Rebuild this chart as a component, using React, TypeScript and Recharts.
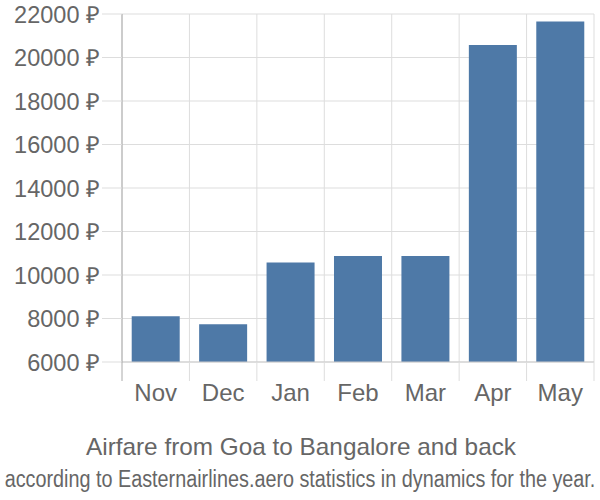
import { BarChart, Bar, XAxis, YAxis, CartesianGrid } from "recharts";

const months = ["Nov", "Dec", "Jan", "Feb", "Mar", "Apr", "May"];
const fares = [8100, 7730, 10580, 10870, 10870, 20570, 21650];
const yTicks = [6000, 8000, 10000, 12000, 14000, 16000, 18000, 20000, 22000];

const data = months.map((month, i) => ({ month, fare: fares[i] }));

const FONT = "'Liberation Sans', Arial, sans-serif";
const TEXT = "#666";
const GRID = "#ddd";
const AXIS = "#aaa";

// plot area: left 122, right 594, top 14, bottom 362
const PLOT_LEFT = 122;
const PLOT_W = 472;
const CAT_W = PLOT_W / months.length;

function MonthTick({ x, y, payload, index }: any) {
  const left = x - CAT_W / 2;
  return (
    <g>
      <line x1={left} y1={y} x2={left} y2={y + 19} stroke={index === 0 ? AXIS : GRID} />
      {index === months.length - 1 && (
        <line x1={left + CAT_W} y1={y} x2={left + CAT_W} y2={y + 19} stroke={GRID} />
      )}
      <text x={x} y={y + 39} textAnchor="middle" fill={TEXT} fontSize={24} fontFamily={FONT}>
        {payload.value}
      </text>
    </g>
  );
}

function FareTick({ x, y, payload }: any) {
  return (
    <text x={x} y={y + 8.5} textAnchor="end" fill={TEXT} fontSize={23.5} fontFamily={FONT}>
      {`${payload.value} ₽`}
    </text>
  );
}

export default function App() {
  return (
    <div style={{ position: "absolute", left: 0, top: 0, width: 600, height: 500, background: "#fff" }}>
      <BarChart
        width={600}
        height={500}
        data={data}
        margin={{ top: 14, right: 6, bottom: 0, left: 0 }}
        barCategoryGap="14.4%"
      >
        <CartesianGrid
          stroke={GRID}
          verticalCoordinatesGenerator={() =>
            months.map((_, i) => PLOT_LEFT + i * CAT_W).concat(PLOT_LEFT + PLOT_W)
          }
        />
        <XAxis
          dataKey="month"
          height={138}
          tickLine={false}
          tickSize={0}
          tickMargin={0}
          axisLine={{ stroke: "#ccc" }}
          tick={<MonthTick />}
          interval={0}
        />
        <YAxis
          width={122}
          domain={[6000, 22000]}
          ticks={yTicks}
          allowDataOverflow
          tickSize={20}
          tickMargin={2}
          tickLine={{ stroke: GRID }}
          axisLine={{ stroke: AXIS }}
          tick={<FareTick />}
        />
        <Bar dataKey="fare" fill="#4e79a7" isAnimationActive={false} />
      </BarChart>
      <svg width={600} height={500} style={{ position: "absolute", left: 0, top: 0, pointerEvents: "none" }}>
        <text
          x={301}
          y={455}
          textAnchor="middle"
          fill={TEXT}
          fontSize={24}
          fontFamily={FONT}
          textLength={430}
          lengthAdjust="spacingAndGlyphs"
        >
          Airfare from Goa to Bangalore and back
        </text>
        {/* subtitle is drawn taller than wide, as in the reference */}
        <text
          transform="translate(300,487) scale(1,1.18)"
          textAnchor="middle"
          fill={TEXT}
          fontSize={19.8}
          fontFamily={FONT}
        >
          according to Easternairlines.aero statistics in dynamics for the year.
        </text>
      </svg>
    </div>
  );
}
